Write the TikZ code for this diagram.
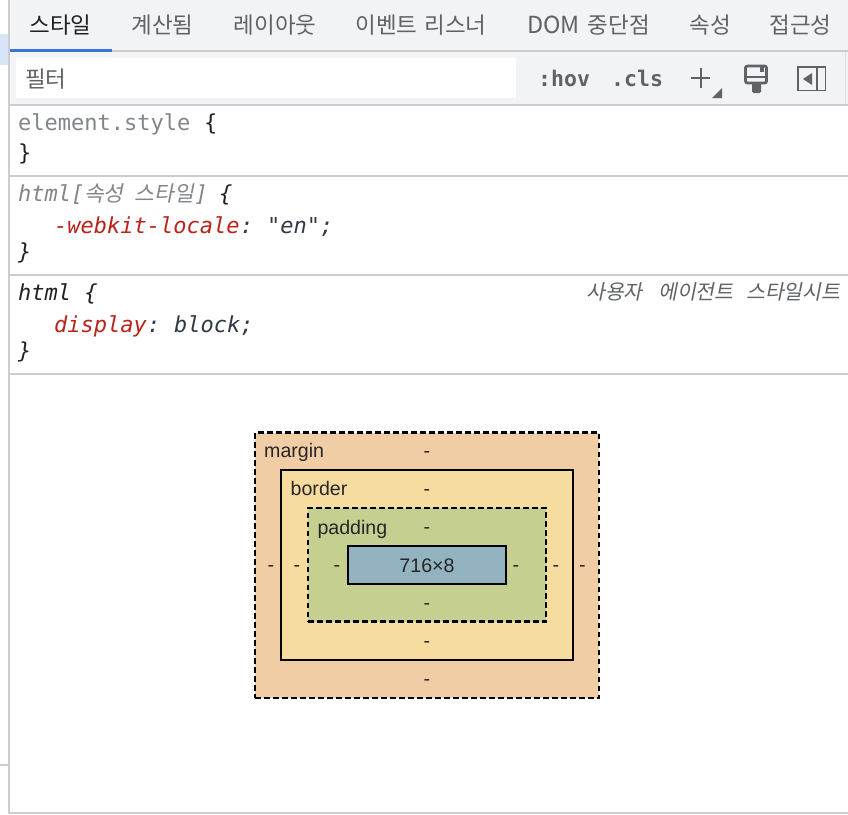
\documentclass[tikz,border=0pt]{standalone}
\usepackage{fontspec}
\setmainfont{Liberation Sans}
\newfontfamily\kr{Noto Sans CJK KR}
\newfontfamily\krit[FakeSlant=0.2]{Noto Sans CJK KR}
\newfontfamily\cm{DejaVu Sans Mono}
\newfontfamily\cmit{DejaVu Sans Mono Oblique}
\definecolor{railc}{HTML}{CBCDD1}
\definecolor{barc}{HTML}{F1F3F4}
\definecolor{tabc}{HTML}{5F6368}
\definecolor{inkc}{HTML}{202124}
\definecolor{greyc}{HTML}{80868B}
\definecolor{redc}{HTML}{B8231A}
\definecolor{valc}{HTML}{303942}
\definecolor{boxink}{HTML}{262626}
\definecolor{marginc}{HTML}{F0CDA5}
\definecolor{borderc}{HTML}{F7DC9F}
\definecolor{paddingc}{HTML}{C4CF90}
\definecolor{contentc}{HTML}{94B3C0}
\definecolor{activec}{HTML}{3B74D7}
\definecolor{patchc}{HTML}{D6E6F8}
\tikzset{
  tabtext/.style={anchor=base,inner sep=0pt,text=tabc,font=\kr\fontsize{22.5}{24}\selectfont},
  codetext/.style={anchor=base west,inner sep=0pt,text=inkc,font=\cm\fontsize{22}{24}\selectfont},
  toolbtn/.style={anchor=base west,inner sep=0pt,text=tabc,font=\cm\bfseries\fontsize{21.5}{24}\selectfont},
  boxtext/.style={anchor=base west,inner sep=0pt,text=boxink,font=\fontsize{19.6}{22}\selectfont},
  dashmark/.style={anchor=base,inner sep=0pt,text=boxink,font=\fontsize{19.6}{22}\selectfont},
  uatext/.style={anchor=base west,inner sep=0pt,text=tabc,font=\krit\fontsize{20.5}{22}\selectfont},
  selkr/.style={anchor=base west,inner sep=0pt,text=greyc,font=\krit\fontsize{21.5}{24}\selectfont},
  layer/.style={draw=black,line width=2.2pt,inner sep=0pt,outer sep=0pt,anchor=north west},
  dashlayer/.style={layer,dash pattern=on 5.5pt off 3.5pt},
  sep/.style={draw=railc,line width=2pt}
}
\begin{document}
\begin{tikzpicture}[x=1pt,y=-1pt]
\useasboundingbox (0,0) rectangle (848,814);
\fill[white] (0,0) rectangle (848,814);
% panel chrome
\fill[barc] (10,0) rectangle (848,104);
\fill[white] (16,58) rectangle (516,98);
\fill[patchc] (0,34) rectangle (8,65);
\draw[sep] (9,0) -- (9,814);
\draw[sep] (0,765) -- (8,765);
\draw[sep] (10,813) -- (848,813);
\draw[draw=railc!60!white,line width=1pt] (845,52) -- (845,104);
\draw[sep] (10,51) -- (848,51);
\draw[draw=activec,line width=3pt] (10,50.5) -- (112,50.5);
\draw[sep] (10,105) -- (848,105);
\draw[sep] (10,176) -- (848,176);
\draw[sep] (10,275) -- (848,275);
\draw[sep] (10,374) -- (848,374);
% tabs
\node[tabtext,text=inkc] (t1) at (60.5,33) {스타일};
\node[tabtext] (t2) at (162.5,33) {계산됨};
\node[tabtext] (t3) at (275,33) {레이아웃};
\node[tabtext] (t4a) at (386.5,33) {이벤트};
\node[tabtext] (t4b) at (455.5,33) {리스너};
\node[tabtext,font=\kr\fontsize{23.5}{24}\selectfont] (t5a) at (553.5,33) {DOM};
\node[tabtext] (t5b) at (619,33) {중단점};
\node[tabtext] (t6) at (710,33) {속성};
\node[tabtext] (t7) at (800.5,33) {접근성};
\node[tabtext,anchor=base west] (filt) at (25,87) {필터};
\node[toolbtn] (hov) at (538,86) {:hov};
\node[toolbtn] (cls) at (611,86) {.cls};
% plus
\draw[tabc,line width=2pt] (691,78) -- (710,78) (700.5,68) -- (700.5,88);
\fill[tabc] (722,88) -- (722,98) -- (712,98) -- cycle;
% brush
\draw[tabc,line width=2.8pt,rounded corners=2pt] (745.5,66) -- (766.5,66) -- (766.5,83) -- (745.5,83) -- cycle;
\draw[tabc,line width=2.6pt] (745,77) -- (767,77);
\fill[tabc] (760,66) rectangle (763.5,72);
\fill[tabc,rounded corners=1.5pt] (752,83) -- (761,83) -- (761,93) -- (752,93) -- cycle;
% sidebar toggle
\draw[tabc,line width=1.6pt] (798,67) rectangle (825.5,90.5);
\draw[tabc,line width=1.6pt] (817,67) -- (817,90.5);
\fill[tabc] (812,73) -- (812,85) -- (803,79) -- cycle;
% rules
\node[codetext,text=greyc] (r1a) at (18,130) {element.style};
\node[codetext] (r1b) at (204,130) {\{};
\node[codetext] (r1c) at (18,160) {\}};
\node[codetext,text=greyc] (r2a) at (18,201) {\cmit html[};
\node[selkr] (r2k1) at (84,201) {속성};
\node[selkr] (r2k2) at (134.5,201) {스타일};
\node[codetext,text=greyc] (r2k3) at (194.5,201) {\cmit]};
\node[codetext] (r2b) at (219,201) {\cmit\{};
\node[codetext,text=redc] (r2c) at (54,233) {\cmit-webkit-locale};
\node[codetext,text=valc] (r2d) at (240,233) {\cmit:};
\node[codetext,text=valc] (r2e) at (267,233) {\cmit"en";};
\node[codetext] (r2f) at (18,259) {\cmit\}};
\node[codetext] (r3a) at (18,300) {\cmit html \{};
\node[codetext,text=redc] (r3b) at (54,332) {\cmit display};
\node[codetext,text=valc] (r3c) at (147,332) {\cmit:};
\node[codetext,text=valc] (r3d) at (174,332) {\cmit block;};
\node[codetext] (r3e) at (18,358) {\cmit\}};
\node[uatext] (ua1) at (586,299) {사용자};
\node[uatext] (ua2) at (658,299) {에이전트};
\node[uatext] (ua3) at (746,299) {스타일시트};
% box model
\node[dashlayer,fill=marginc,minimum width=344pt,minimum height=265.5pt] (mbox) at (255,432.5) {};
\node[layer,fill=borderc,minimum width=292pt,minimum height=190pt] (bbox) at (281,470) {};
\node[dashlayer,fill=paddingc,minimum width=238pt,minimum height=113.5pt] (pbox) at (308,508) {};
\node[layer,fill=contentc,minimum width=158pt,minimum height=38pt] (cbox) at (348,546) {};
\node[boxtext] (mlab) at (264,457.3) {margin};
\node[boxtext] (blab) at (290.5,495.7) {border};
\node[boxtext] (plab) at (317.3,534) {padding};
\node[anchor=base,inner sep=0pt,text=boxink,font=\fontsize{19.6}{22}\selectfont] (size) at (427,572) {716×8};
\foreach \n/\px/\py in {a/427/457.5,b/427/495.5,c/427/533.5,d/427/609.5,e/427/647,f/427/685.5,g/271/571,h/297/571,i/337/571,j/516/571,k/556/571,l/582.5/571}{
  \node[dashmark] (dash\n) at (\px,\py) {-};
}
\end{tikzpicture}
\end{document}
